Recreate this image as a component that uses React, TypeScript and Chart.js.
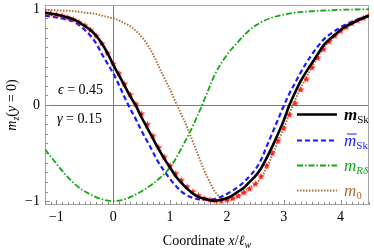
import React, { useEffect, useRef } from 'react';
import { Chart, registerables } from 'chart.js';

Chart.register(...registerables);

// ---- data ----
const X_FINE = [
  -1.2, -1.1, -1.0, -0.9, -0.8, -0.7, -0.6, -0.5, -0.4, -0.3, -0.2, -0.1,
  0.0, 0.1, 0.2, 0.3, 0.4, 0.5, 0.6, 0.7, 0.8, 0.9,
  1.0, 1.1, 1.2, 1.3, 1.4, 1.5, 1.6, 1.7, 1.8, 1.9,
  2.0, 2.1, 2.2, 2.3, 2.4, 2.5, 2.6, 2.7, 2.8, 2.9,
  3.0, 3.1, 3.2, 3.3, 3.4, 3.5, 3.6, 3.7, 3.8, 3.9,
  4.0, 4.1, 4.2, 4.3, 4.4, 4.5,
];

// m_Sk (solid black)
const M_SK = [
  0.96, 0.95, 0.94, 0.925, 0.91, 0.89, 0.86, 0.82, 0.78, 0.72, 0.64, 0.54,
  0.42, 0.31, 0.2, 0.09, -0.01, -0.13, -0.24, -0.35, -0.46, -0.56,
  -0.65, -0.74, -0.81, -0.87, -0.92, -0.955, -0.975, -0.99, -0.995, -0.985,
  -0.97, -0.94, -0.9, -0.86, -0.8, -0.74, -0.66, -0.55, -0.43, -0.3,
  -0.16, 0.0, 0.13, 0.25, 0.35, 0.44, 0.53, 0.62, 0.68, 0.73,
  0.78, 0.82, 0.85, 0.88, 0.905, 0.93,
];

// simulation (red stars)
const M_SK_SIM = [
  0.96, 0.95, 0.94, 0.93, 0.91, 0.89, 0.86, 0.83, 0.78, 0.72, 0.64, 0.54,
  0.43, 0.33, 0.22, 0.11, 0.01, -0.09, -0.2, -0.32, -0.44, -0.54,
  -0.63, -0.71, -0.78, -0.85, -0.9, -0.94, -0.97, -0.985, -0.995, -0.995,
  -0.985, -0.97, -0.945, -0.91, -0.87, -0.82, -0.74, -0.63, -0.5, -0.37,
  -0.24, -0.1, 0.02, 0.16, 0.27, 0.39, 0.49, 0.58, 0.66, 0.72,
  0.77, 0.81, 0.85, 0.88, 0.905, 0.93,
];

// bar m_Sk (blue dashed)
const M_SK_BAR = [
  0.93, 0.92, 0.91, 0.9, 0.885, 0.87, 0.83, 0.78, 0.72, 0.64, 0.53, 0.43,
  0.33, 0.21, 0.08, -0.04, -0.15, -0.27, -0.38, -0.49, -0.6, -0.69,
  -0.77, -0.84, -0.9, -0.94, -0.965, -0.98, -0.985, -0.985, -0.975, -0.955,
  -0.925, -0.89, -0.85, -0.8, -0.74, -0.67, -0.57, -0.43, -0.29, -0.15,
  -0.01, 0.12, 0.23, 0.34, 0.44, 0.53, 0.61, 0.68, 0.73, 0.77,
  0.81, 0.84, 0.865, 0.89, 0.91, 0.93,
];

// m_0 (brown dotted)
const M_0 = [
  0.985, 0.985, 0.985, 0.98, 0.98, 0.975, 0.97, 0.96, 0.955, 0.945, 0.93, 0.915,
  0.9, 0.88, 0.85, 0.82, 0.77, 0.71, 0.63, 0.53, 0.4, 0.28,
  0.16, 0.03, -0.1, -0.23, -0.38, -0.53, -0.68, -0.8, -0.91, -0.965,
  -0.99, -0.975, -0.945, -0.9, -0.86, -0.82, -0.76, -0.65, -0.52, -0.38,
  -0.24, -0.09, 0.05, 0.18, 0.29, 0.4, 0.5, 0.59, 0.66, 0.72,
  0.77, 0.81, 0.85, 0.88, 0.905, 0.93,
];

// m_Rδ (green dash-dot)
const X_RD = [
  -1.2, -1.0, -0.8, -0.6, -0.4, -0.2, 0.0, 0.2, 0.4, 0.6, 0.8, 1.0, 1.2,
  1.4, 1.6, 1.8, 2.0, 2.2, 2.4, 2.6, 2.8, 3.0, 3.2, 3.5, 4.0, 4.5,
];
const M_RD = [
  -0.46, -0.61, -0.75, -0.86, -0.93, -0.98, -1.0, -0.98, -0.93, -0.86, -0.77, -0.65, -0.45,
  -0.22, 0.05, 0.33, 0.52, 0.66, 0.78, 0.86, 0.91, 0.94, 0.96, 0.975, 0.99, 0.995,
];

const X_TICKS = [-1, 0, 1, 2, 3, 4];
const Y_TICKS = [-1, 0, 1];
const X_RANGE = [-1.2, 4.5];
const Y_RANGE = [-1.04, 1.04];

const SERIF = "'Liberation Serif', 'DejaVu Serif', serif";
const C_BLACK = '#000000';
const C_BLUE = '#1a1aff';
const C_GREEN = '#12a812';
const C_BROWN = '#a9703c';
const C_RED = '#ff1a1a';

type Run = { t: string; font: string; dy?: number; color?: string };

function drawRuns(ctx: CanvasRenderingContext2D, runs: Run[], x: number, y: number, align: 'left' | 'center', color: string) {
  ctx.textBaseline = 'alphabetic';
  ctx.textAlign = 'left';
  let total = 0;
  for (const r of runs) {
    ctx.font = r.font;
    total += ctx.measureText(r.t).width;
  }
  let cx = align === 'center' ? x - total / 2 : x;
  for (const r of runs) {
    ctx.font = r.font;
    ctx.fillStyle = r.color || color;
    ctx.fillText(r.t, cx, y + (r.dy || 0));
    cx += ctx.measureText(r.t).width;
  }
  return total;
}

function makeStar(): HTMLCanvasElement {
  const c = document.createElement('canvas');
  c.width = 9;
  c.height = 9;
  const g = c.getContext('2d')!;
  g.fillStyle = C_RED;
  g.beginPath();
  for (let i = 0; i < 10; i++) {
    const r = i % 2 === 0 ? 3.8 : 1.6;
    const a = -Math.PI / 2 + (i * Math.PI) / 5;
    g.lineTo(4.5 + r * Math.cos(a), 4.7 + r * Math.sin(a));
  }
  g.closePath();
  g.fill();
  return c;
}

const fmt = (v: number) => (v < 0 ? '\u2212' + Math.abs(v) : String(v));

const decorPlugin = {
  id: 'decor',
  beforeDatasetsDraw(chart: any) {
    const { ctx, chartArea: a, scales } = chart;
    const xs = scales.x;
    const ys = scales.y;
    ctx.save();
    // frame
    ctx.strokeStyle = '#a6a6a6';
    ctx.lineWidth = 1;
    ctx.strokeRect(a.left + 0.5, a.top + 0.5, a.right - a.left - 1, a.bottom - a.top - 1);
    // inward ticks on bottom and left
    ctx.strokeStyle = '#8c8c8c';
    ctx.beginPath();
    for (let k = -12; k <= 45; k++) {
      const v = k / 10;
      const px = Math.round(xs.getPixelForValue(v)) + 0.5;
      const len = k % 10 === 0 ? 5 : 3;
      ctx.moveTo(px, a.bottom);
      ctx.lineTo(px, a.bottom - len);
    }
    for (let k = -10; k <= 10; k++) {
      const v = k / 10;
      const py = Math.round(ys.getPixelForValue(v)) + 0.5;
      const len = k % 10 === 0 ? 5 : 3;
      ctx.moveTo(a.left, py);
      ctx.lineTo(a.left + len, py);
    }
    ctx.stroke();
    ctx.restore();
  },
  afterDraw(chart: any) {
    const { ctx, chartArea: a } = chart;
    ctx.save();
    // annotations
    drawRuns(ctx, [
      { t: '\u03F5', font: `italic 14px ${SERIF}` },
      { t: ' = 0.45', font: `14px ${SERIF}` },
    ], 58, 94, 'left', '#000');
    drawRuns(ctx, [
      { t: '\u03B3', font: `italic 14px ${SERIF}` },
      { t: ' = 0.15', font: `14px ${SERIF}` },
    ], 57, 123, 'left', '#000');

    // legend
    const lx0 = 297;
    const lx1 = 337;
    const tx = 344;
    const items = [
      { y: 114.5, color: C_BLACK, dash: [] as number[], width: 2.6, label: 'Sk', bar: false, bold: true },
      { y: 140.5, color: C_BLUE, dash: [5, 3], width: 2, label: 'Sk', bar: true, bold: false },
      { y: 165.5, color: C_GREEN, dash: [6, 2, 1.5, 2], width: 1.8, label: 'R\u03B4', bar: false, bold: false },
      { y: 190.5, color: C_BROWN, dash: [1.5, 1.5], width: 2, label: '0', bar: false, bold: false },
    ];
    for (const it of items) {
      ctx.beginPath();
      ctx.strokeStyle = it.color;
      ctx.lineWidth = it.width;
      ctx.setLineDash(it.dash);
      ctx.moveTo(lx0, it.y);
      ctx.lineTo(lx1, it.y);
      ctx.stroke();
      ctx.setLineDash([]);
      const mFont = `${it.bold ? 'bold ' : ''}italic 17px ${SERIF}`;
      ctx.font = mFont;
      const mw = ctx.measureText('m').width;
      const subFont = it.label === 'R\u03B4' ? `italic 11px ${SERIF}` : `11px ${SERIF}`;
      drawRuns(ctx, [
        { t: 'm', font: mFont },
        { t: it.label, font: subFont, dy: 3 },
      ], tx, it.y + 5, 'left', it.color);
      if (it.bar) {
        ctx.strokeStyle = it.color;
        ctx.lineWidth = 1;
        ctx.beginPath();
        ctx.moveTo(tx + 3, it.y - 6.5);
        ctx.lineTo(tx + mw + 0.5, it.y - 6.5);
        ctx.stroke();
      }
    }

    // x-axis title
    drawRuns(ctx, [
      { t: 'Coordinate ', font: `14px ${SERIF}` },
      { t: 'x', font: `italic 14px ${SERIF}` },
      { t: '/', font: `14px ${SERIF}` },
      { t: '\u2113', font: `italic 14px ${SERIF}` },
      { t: 'w', font: `italic 10px ${SERIF}`, dy: 3 },
    ], (a.left + a.right) / 2, 245, 'center', '#000');

    // y-axis title
    ctx.translate(16, (a.top + a.bottom) / 2);
    ctx.rotate(-Math.PI / 2);
    drawRuns(ctx, [
      { t: 'm', font: `italic 14px ${SERIF}` },
      { t: 'z', font: `italic 10px ${SERIF}`, dy: 3 },
      { t: '(', font: `14px ${SERIF}` },
      { t: 'y', font: `italic 14px ${SERIF}` },
      { t: ' = 0)', font: `14px ${SERIF}` },
    ], 0, 0, 'center', '#000');
    ctx.restore();
  },
};

export default function App() {
  const ref = useRef<HTMLCanvasElement | null>(null);

  useEffect(() => {
    const canvas = ref.current;
    if (!canvas) return;
    const star = makeStar();
    const pts = (xs: number[], ys: number[]) => xs.map((x, i) => ({ x, y: ys[i] }));

    const chart = new Chart(canvas, {
      type: 'line',
      data: {
        datasets: [
          {
            label: 'm_Sk',
            data: pts(X_FINE, M_SK),
            borderColor: C_BLACK,
            borderWidth: 2.6,
            pointRadius: 0,
            tension: 0.35,
            order: 0,
          },
          {
            label: 'sim',
            data: pts(X_FINE, M_SK_SIM),
            showLine: false,
            pointStyle: star as any,
            pointRadius: 4,
            borderColor: C_RED,
            backgroundColor: C_RED,
            order: 1,
          },
          {
            label: 'bar m_Sk',
            data: pts(X_FINE, M_SK_BAR),
            borderColor: C_BLUE,
            borderWidth: 2.2,
            borderDash: [5, 3],
            pointRadius: 0,
            tension: 0.35,
            order: 2,
          },
          {
            label: 'm_0',
            data: pts(X_FINE, M_0),
            borderColor: C_BROWN,
            borderWidth: 2,
            borderDash: [1.5, 1.5],
            pointRadius: 0,
            tension: 0.35,
            order: 3,
          },
          {
            label: 'm_Rd',
            data: pts(X_RD, M_RD),
            borderColor: C_GREEN,
            borderWidth: 1.8,
            borderDash: [6, 2, 1.5, 2],
            pointRadius: 0,
            tension: 0.35,
            order: 4,
          },
        ],
      },
      options: {
        animation: false,
        responsive: false,
        maintainAspectRatio: false,
        devicePixelRatio: 1,
        layout: { padding: { top: 3, right: 2, left: 0, bottom: 0 } },
        plugins: {
          legend: { display: false },
          tooltip: { enabled: false },
        },
        scales: {
          x: {
            type: 'linear',
            min: X_RANGE[0],
            max: X_RANGE[1],
            afterBuildTicks: (s: any) => {
              s.ticks = X_TICKS.map((v) => ({ value: v }));
            },
            afterFit: (s: any) => {
              s.height = 47;
              s.paddingLeft = 0;
              s.paddingRight = 0;
            },
            border: { display: false },
            grid: {
              drawTicks: false,
              color: (c: any) => (c.tick && c.tick.value === 0 ? '#7a7a7a' : 'rgba(0,0,0,0)'),
              lineWidth: 1,
            },
            ticks: {
              color: '#000',
              font: { family: SERIF, size: 14 },
              padding: 4,
              autoSkip: false,
              maxRotation: 0,
              callback: (v: any) => fmt(Number(v)),
            },
          },
          y: {
            type: 'linear',
            min: Y_RANGE[0],
            max: Y_RANGE[1],
            afterBuildTicks: (s: any) => {
              s.ticks = Y_TICKS.map((v) => ({ value: v }));
            },
            afterFit: (s: any) => {
              s.width = 45;
              s.paddingTop = 0;
              s.paddingBottom = 0;
            },
            border: { display: false },
            grid: {
              drawTicks: false,
              color: (c: any) => (c.tick && c.tick.value === 0 ? '#7a7a7a' : 'rgba(0,0,0,0)'),
              lineWidth: 1,
            },
            ticks: {
              color: '#000',
              font: { family: SERIF, size: 14 },
              padding: 5,
              callback: (v: any) => fmt(Number(v)),
            },
          },
        },
      },
      plugins: [decorPlugin],
    } as any);

    return () => chart.destroy();
  }, []);

  return (
    <div style={{ position: 'fixed', left: 0, top: 0, width: 374, height: 252, background: '#fff' }}>
      <canvas ref={ref} width={374} height={252} style={{ width: 374, height: 252, display: 'block' }} />
    </div>
  );
}
